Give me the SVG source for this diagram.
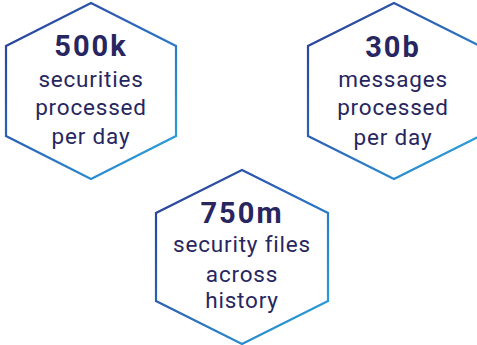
<svg xmlns="http://www.w3.org/2000/svg" width="477" height="345" viewBox="0 0 477 345">
<defs>
<linearGradient id="g" x1="0" y1="0" x2="1" y2="1">
<stop offset="0" stop-color="#2a3a94"/>
<stop offset="0.5" stop-color="#2c6cbd"/>
<stop offset="1" stop-color="#29a9e1"/>
</linearGradient>
</defs>
<style>
.hex{fill:#ffffff;stroke:url(#g);stroke-width:2.2}
.big{font-family:Roboto,"Liberation Sans",sans-serif;font-weight:bold;font-size:29px;fill:#272660;text-anchor:middle;letter-spacing:2px}
.t{font-family:Roboto,"Liberation Sans",sans-serif;font-size:22.5px;fill:#272660;text-anchor:middle;letter-spacing:0.8px}
</style>
<rect width="477" height="345" fill="#ffffff"/>
<g id="node-500k">
<polygon class="hex" points="91,3 176,46 176,136 91,179 6,136 6,46"/>
<text class="big" x="91" y="56">500k</text>
<text class="t" x="91" y="87">securities</text>
<text class="t" x="91" y="115">processed</text>
<text class="t" x="91" y="144">per day</text>
</g>
<g id="node-30b">
<polygon class="hex" points="394,3 480,46 480,136 394,179 308,136 308,46"/>
<text class="big" x="393" y="57">30b</text>
<text class="t" x="393" y="87">messages</text>
<text class="t" x="393" y="115">processed</text>
<text class="t" x="393" y="145">per day</text>
</g>
<g id="node-750m">
<polygon class="hex" points="242,170 328,213 328,301 242,344 156,301 156,213"/>
<text class="big" x="242" y="223">750m</text>
<text class="t" x="242" y="252">security files</text>
<text class="t" x="242" y="282">across</text>
<text class="t" x="242" y="308">history</text>
</g>
<g id="connectors"/>
</svg>
